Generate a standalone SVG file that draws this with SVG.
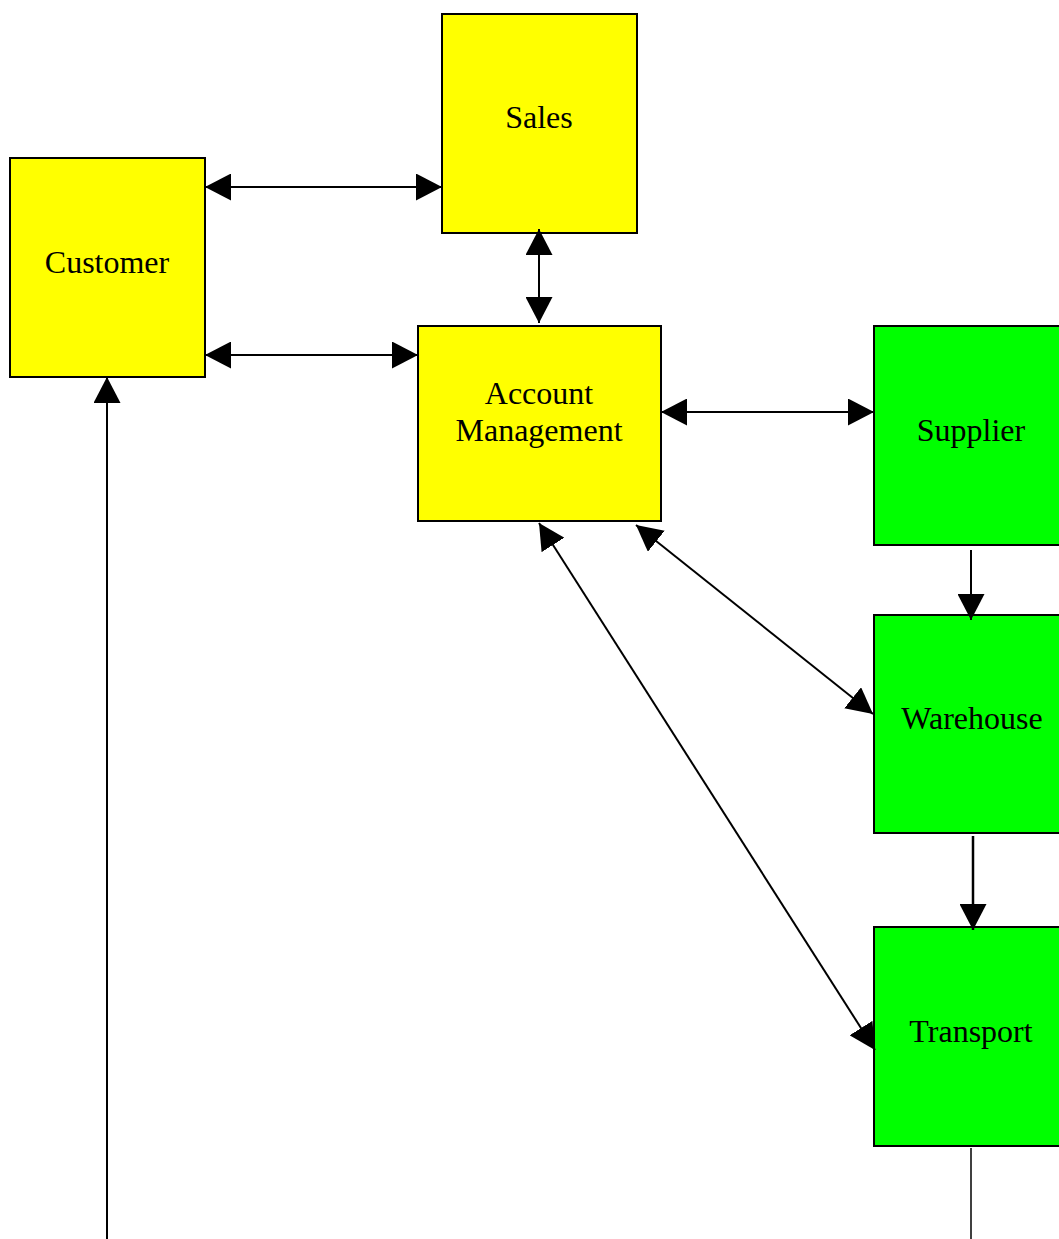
<svg xmlns="http://www.w3.org/2000/svg" width="1059" height="1239" viewBox="0 0 1059 1239">
<style>
.y{fill:#ffff00;stroke:#000;stroke-width:2}
.g{fill:#00ff00;stroke:#000;stroke-width:2}
.t{font-family:"Liberation Serif","Times New Roman",serif;font-size:32px;fill:#000;text-anchor:middle}
.c{stroke:#000;stroke-width:2;fill:none}
</style>
<defs>
<marker id="ah" markerUnits="userSpaceOnUse" markerWidth="26" markerHeight="27" refX="26" refY="13.5" orient="auto-start-reverse" viewBox="0 0 26 27">
<path d="M0,0 L26,13.5 L0,27 z" fill="#000"/>
</marker>
</defs>
<rect width="1059" height="1239" fill="#fff"/>
<g id="customer"><rect class="y" x="10" y="158" width="195" height="219"/><text class="t" x="107" y="273">Customer</text></g>
<g id="sales"><rect class="y" x="442" y="14" width="195" height="219"/><text class="t" x="539" y="128">Sales</text></g>
<g id="account-management"><rect class="y" x="418" y="326" width="243" height="195"/><text class="t" x="539" y="404">Account</text><text class="t" x="539" y="441">Management</text></g>
<g id="supplier"><rect class="g" x="874" y="326" width="195" height="219"/><text class="t" x="971" y="441">Supplier</text></g>
<g id="warehouse"><rect class="g" x="874" y="615" width="195" height="218"/><text class="t" x="972" y="729">Warehouse</text></g>
<g id="transport"><rect class="g" x="874" y="927" width="195" height="219"/><text class="t" x="971" y="1042">Transport</text></g>
<g id="connectors">
<line class="c" x1="205" y1="187" x2="442" y2="187" marker-start="url(#ah)" marker-end="url(#ah)"/>
<line class="c" x1="205" y1="355" x2="418" y2="355" marker-start="url(#ah)" marker-end="url(#ah)"/>
<line class="c" x1="539" y1="229" x2="539" y2="323" marker-start="url(#ah)" marker-end="url(#ah)"/>
<line class="c" x1="661" y1="412" x2="874" y2="412" marker-start="url(#ah)" marker-end="url(#ah)"/>
<line class="c" x1="636" y1="525" x2="873" y2="714" marker-start="url(#ah)" marker-end="url(#ah)"/>
<line class="c" x1="539" y1="523" x2="875" y2="1050" marker-start="url(#ah)" marker-end="url(#ah)"/>
<line class="c" x1="971" y1="550" x2="971" y2="620" marker-end="url(#ah)"/>
<line class="c" x1="973" y1="836" x2="973" y2="930" marker-end="url(#ah)" style="stroke-width:2.5"/>
<line class="c" x1="107" y1="1239" x2="107" y2="377" marker-end="url(#ah)"/>
<line class="c" x1="971" y1="1148" x2="971" y2="1239" style="stroke-width:1.5"/>
</g>
</svg>
